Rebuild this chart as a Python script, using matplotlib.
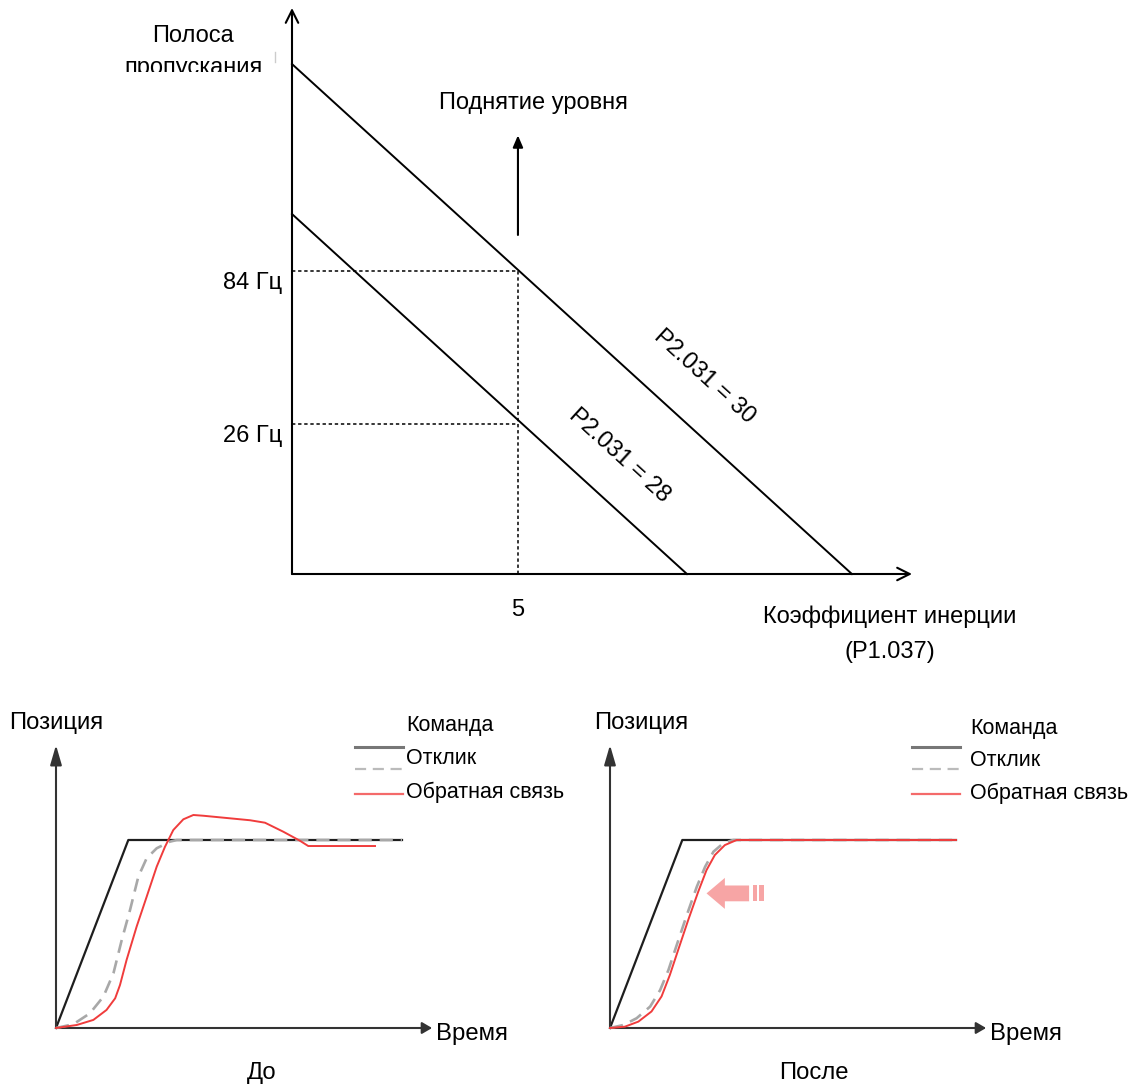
import matplotlib
matplotlib.use("Agg")
import matplotlib.pyplot as plt
from matplotlib.patches import FancyArrow, Rectangle
from matplotlib.transforms import Bbox, TransformedBbox

plt.rcParams['font.family'] = ['Liberation Sans', 'DejaVu Sans']

W, H = 1137, 1090
fig = plt.figure(figsize=(W / 100, H / 100), dpi=100)

def fx(x):
    return x / W

def fy(y):
    return 1 - y / H

# ---------------- Top chart data ----------------
inertia_tick = 5
line_labels = ["P2.031 = 30", "P2.031 = 28"]
line_y0 = [90.1, 63.6]          # bandwidth at zero inertia (relative units)
line_x_end = [12.39, 8.74]      # inertia where bandwidth reaches zero
level_labels = ["84 Гц", "26 Гц"]
level_values = [53.5, 26.5]

TOP_FS = 17
TOP_XMAX, TOP_YMAX = 13.72, 100.0
axt = fig.add_axes([fx(292), fy(574), fx(912) - fx(292), fy(8) - fy(574)])
axt.set_xlim(0, TOP_XMAX)
axt.set_ylim(0, TOP_YMAX)
axt.axis('off')

axt.annotate("", xy=(0, TOP_YMAX), xytext=(0, 0), annotation_clip=False,
             arrowprops=dict(arrowstyle="->,head_length=0.9,head_width=0.45", lw=1.5, color='black',
                             shrinkA=0, shrinkB=0))
axt.annotate("", xy=(TOP_XMAX, 0), xytext=(0, 0), annotation_clip=False,
             arrowprops=dict(arrowstyle="->,head_length=0.9,head_width=0.45", lw=1.5, color='black',
                             shrinkA=0, shrinkB=0))

for y0, xe in zip(line_y0, line_x_end):
    axt.plot([0, xe], [y0, 0], color='black', lw=1.4, clip_on=False)

for lab, lv in zip(level_labels, level_values):
    axt.plot([0, inertia_tick], [lv, lv], color='black', lw=1.1, dashes=(2.2, 1.8), clip_on=False)
    axt.annotate(lab, xy=(0, lv), xytext=(-10, -12), textcoords='offset pixels',
                 ha='right', va='center', fontsize=TOP_FS)
axt.plot([inertia_tick, inertia_tick], [0, max(level_values)], color='black', lw=1.1,
         dashes=(2.2, 1.8), clip_on=False)
axt.annotate(str(inertia_tick), xy=(inertia_tick, 0), xytext=(0, -36), textcoords='offset pixels',
             ha='center', va='center', fontsize=TOP_FS)

axt.text(9.12, 34.8, line_labels[0], rotation=-42.3, ha='center', va='center', fontsize=TOP_FS,
         rotation_mode='anchor')
axt.text(7.24, 21.0, line_labels[1], rotation=-42.3, ha='center', va='center', fontsize=TOP_FS,
         rotation_mode='anchor')

axt.annotate("", xy=(inertia_tick, 77.5), xytext=(inertia_tick, 59.9), annotation_clip=False,
             arrowprops=dict(arrowstyle="-|>,head_length=0.7,head_width=0.3", lw=1.5, color='black',
                             shrinkA=0, shrinkB=0))
fig.text(fx(533), fy(103), "Поднятие уровня", ha='center', va='center', fontsize=TOP_FS)

fig.text(fx(193), fy(36), "Полоса", ha='center', va='center', fontsize=TOP_FS)
t2 = fig.text(fx(193), fy(68), "пропускания", ha='center', va='center', fontsize=TOP_FS)
t2.set_clip_box(TransformedBbox(Bbox([[0, fy(72)], [1, 1]]), fig.transFigure))
t2.set_clip_on(True)
fig.add_artist(plt.Line2D([fx(275), fx(275)], [fy(52), fy(62)], color='#cccccc', lw=1))

fig.text(fx(890), fy(617), "Коэффициент инерции", ha='center', va='center', fontsize=TOP_FS)
fig.text(fx(890), fy(652), "(P1.037)", ha='center', va='center', fontsize=TOP_FS)

# ---------------- Bottom charts data ----------------
cmd_t = [0.0, 0.209, 1.0]
cmd_p = [0.0, 1.0, 1.0]

before_fb_t = [0.0, 0.060, 0.108, 0.146, 0.171, 0.185, 0.204, 0.233, 0.262, 0.291, 0.315, 0.339,
               0.368, 0.397, 0.426, 0.561, 0.604, 0.657, 0.705, 0.729, 0.922]
before_fb_p = [0.0, 0.016, 0.043, 0.096, 0.158, 0.229, 0.362, 0.539, 0.698, 0.858, 0.964, 1.053,
               1.110, 1.133, 1.129, 1.105, 1.092, 1.044, 0.996, 0.968, 0.968]
before_resp_t = [0.0, 0.050, 0.098, 0.137, 0.166, 0.190, 0.214, 0.238, 0.262, 0.291, 0.329, 0.349, 1.0]
before_resp_p = [0.0, 0.020, 0.078, 0.167, 0.291, 0.468, 0.628, 0.805, 0.903, 0.956, 0.991, 1.0, 1.0]

after_fb_t = [0.0, 0.043, 0.082, 0.120, 0.149, 0.173, 0.197, 0.226, 0.255, 0.279, 0.303, 0.332,
              0.366, 1.0]
after_fb_p = [0.0, 0.007, 0.034, 0.088, 0.168, 0.282, 0.415, 0.574, 0.725, 0.840, 0.920, 0.973,
              1.0, 1.0]
after_resp_t = [0.0, 0.039, 0.077, 0.116, 0.145, 0.169, 0.193, 0.222, 0.251, 0.275, 0.299, 0.327,
                0.356, 1.0]
after_resp_p = [0.0, 0.016, 0.052, 0.114, 0.202, 0.309, 0.442, 0.601, 0.752, 0.858, 0.938, 0.982,
                1.0, 1.0]

legend_labels = ["Команда", "Отклик", "Обратная связь"]
panel_titles = ["До", "После"]

CMD_C = '#1e1e1e'
RESP_C = '#a8a8a8'
FB_C = '#f03c3c'
LEG_FS = 15.5
LAB_FS = 17.2

def bottom_panel(x0, title, fb_t, fb_p, resp_t, resp_p, leg_x, leg_tx, leg_dy, pos_dx, title_x,
                 arrow=False):
    sx, sy = 346.0, 188.0
    oy = 1028
    xmax = 1.087
    ymax = 1.505
    ax = fig.add_axes([fx(x0), fy(oy), xmax * sx / W, ymax * sy / H])
    ax.set_xlim(0, xmax)
    ax.set_ylim(0, ymax)
    ax.axis('off')
    ax.annotate("", xy=(0, ymax), xytext=(0, 0), annotation_clip=False,
                arrowprops=dict(arrowstyle="-|>,head_length=1.2,head_width=0.35", lw=1.5,
                                color='#333333', shrinkA=0, shrinkB=0))
    ax.annotate("", xy=(xmax, 0), xytext=(0, 0), annotation_clip=False,
                arrowprops=dict(arrowstyle="-|>,head_length=0.6,head_width=0.35", lw=1.5,
                                color='#333333', shrinkA=0, shrinkB=0))
    ax.plot(cmd_t, cmd_p, color=CMD_C, lw=1.6, clip_on=False, zorder=2,
            solid_joinstyle='round')
    ax.plot(resp_t, resp_p, color=RESP_C, lw=1.9, dashes=(5, 3), clip_on=False, zorder=3,
            dash_joinstyle='round')
    ax.plot(fb_t, fb_p, color=FB_C, lw=1.4, clip_on=False, zorder=4, solid_joinstyle='round')
    lx0, lx1 = leg_x, leg_x + 0.14
    ax.plot([lx0, lx1], [1.495, 1.495], color='#777777', lw=2.2, clip_on=False)
    ax.plot([lx0, lx1], [1.378, 1.378], color='#bbbbbb', lw=1.6, dashes=(5, 3), clip_on=False)
    ax.plot([lx0, lx1], [1.245, 1.245], color='#f46a6a', lw=1.6, clip_on=False)
    ax.text(leg_tx, 1.61 - leg_dy, legend_labels[0], ha='left', va='center', fontsize=LEG_FS)
    ax.text(leg_tx, 1.436 - leg_dy, legend_labels[1], ha='left', va='center', fontsize=LEG_FS)
    ax.text(leg_tx, 1.255 - leg_dy / 2, legend_labels[2], ha='left', va='center', fontsize=LEG_FS)
    ax.text(pos_dx, 1.625, "Позиция", ha='center', va='center', fontsize=LAB_FS)
    ax.text(xmax + 0.01, -0.03, "Время", ha='left', va='center', fontsize=LAB_FS)
    ax.text(title_x, -0.24, title, ha='center', va='center', fontsize=LAB_FS)
    if arrow:
        pink = '#f7a5a5'
        ax.add_patch(FancyArrow(0.402, 0.716, -0.123, 0, width=0.084, head_width=0.165,
                                head_length=0.053, length_includes_head=True, color=pink, lw=0,
                                zorder=5))
        ax.add_patch(Rectangle((0.412, 0.674), 0.012, 0.084, color=pink, lw=0, zorder=5))
        ax.add_patch(Rectangle((0.432, 0.674), 0.014, 0.084, color=pink, lw=0, zorder=5))
    return ax

bottom_panel(56, panel_titles[0], before_fb_t, before_fb_p, before_resp_t, before_resp_p,
             0.864, 1.012, 0.0, 0.0, 0.595)
bottom_panel(610, panel_titles[1], after_fb_t, after_fb_p, after_resp_t, after_resp_p,
             0.873, 1.04, 0.015, 0.089, 0.59, arrow=True)

fig.savefig("out.png", dpi=100, facecolor='white')
